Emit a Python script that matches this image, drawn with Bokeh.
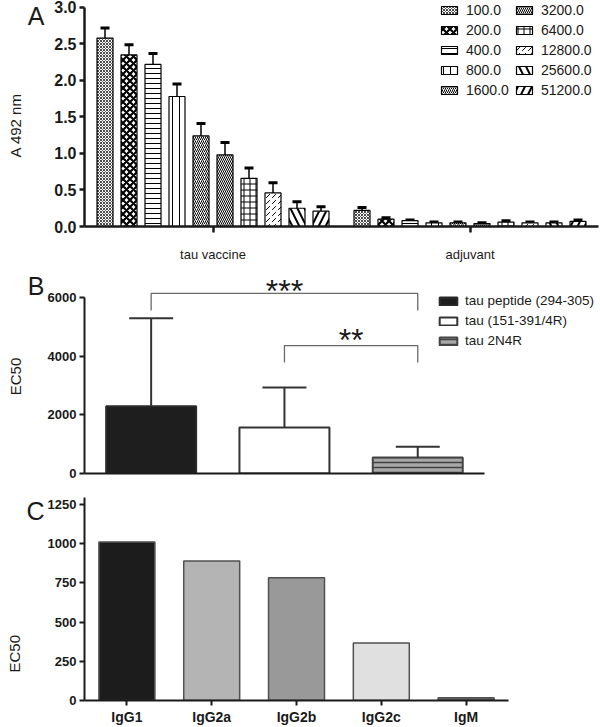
from bokeh.plotting import figure
from bokeh.layouts import column
from bokeh.models import (ColumnDataSource, Range1d, FixedTicker, Whisker, TeeHead, LinearAxis,
                          Legend, LegendItem, Label, PrintfTickFormatter)
from bokeh.embed import file_html
from bokeh.resources import INLINE

# ---------------- data ----------------
dilutions = ["100.0", "200.0", "400.0", "800.0", "1600.0",
             "3200.0", "6400.0", "12800.0", "25600.0", "51200.0"]
groups = ["tau vaccine", "adjuvant"]
vaccine_mean = [2.58, 2.35, 2.22, 1.78, 1.24, 0.98, 0.66, 0.46, 0.25, 0.21]
vaccine_err = [0.14, 0.14, 0.15, 0.17, 0.17, 0.17, 0.14, 0.14, 0.09, 0.06]
adjuvant_mean = [0.22, 0.10, 0.08, 0.05, 0.05, 0.04, 0.06, 0.05, 0.05, 0.07]
adjuvant_err = [0.04, 0.02, 0.01, 0.01, 0.01, 0.01, 0.02, 0.01, 0.01, 0.02]
a_yticks = [0.0, 0.5, 1.0, 1.5, 2.0, 2.5, 3.0]

antigens = ["tau peptide (294-305)", "tau (151-391/4R)", "tau 2N4R"]
ec50_mean = [2290, 1570, 545]
ec50_err = [3000, 1360, 365]
b_yticks = [0, 2000, 4000, 6000]
sig_pairs = [(0, 2), (1, 2)]
sig_labels = ["***", "**"]
sig_heights = [6140, 4360]

isotypes = ["IgG1", "IgG2a", "IgG2b", "IgG2c", "IgM"]
isotype_ec50 = [1011, 889, 783, 367, 18]
c_yticks = [0, 250, 500, 750, 1000, 1250]

# ---------------- styles ----------------
FONT = "Liberation Sans"
INK = "#1a1a1a"
W = 600
hatches = [
    dict(hatch_pattern="diagonal_cross", hatch_scale=3, hatch_weight=0.7),
    dict(hatch_pattern="diagonal_cross", hatch_scale=7, hatch_weight=2.2),
    dict(hatch_pattern="horizontal_line", hatch_scale=5, hatch_weight=1),
    dict(hatch_pattern="vertical_line", hatch_scale=7, hatch_weight=1),
    dict(hatch_pattern="right_diagonal_line", hatch_scale=4, hatch_weight=1),
    dict(hatch_pattern="left_diagonal_line", hatch_scale=4, hatch_weight=1),
    dict(hatch_pattern="cross", hatch_scale=6, hatch_weight=1),
    dict(hatch_pattern="right_diagonal_dash", hatch_scale=6, hatch_weight=1),
    dict(hatch_pattern="left_diagonal_line", hatch_scale=14, hatch_weight=2),
    dict(hatch_pattern="right_diagonal_line", hatch_scale=14, hatch_weight=2),
]
star_offsets = [2, 6]


def style_common(p, lw):
    p.outline_line_color = None
    p.xgrid.visible = False
    p.ygrid.visible = False
    for ax in (p.xaxis[0], p.yaxis[0]):
        ax.axis_line_color = INK
        ax.axis_line_width = lw
        ax.major_tick_line_color = INK
        ax.major_tick_line_width = lw
        ax.major_tick_in = 0
        ax.major_tick_out = 5
        ax.minor_tick_line_color = None
        ax.major_label_text_font = FONT
        ax.major_label_text_color = INK
        ax.major_label_text_font_style = "bold"
    p.yaxis.major_label_standoff = 3


def bare_axis(ticks, overrides, standoff, size, orientation="horizontal"):
    ax = LinearAxis(ticker=FixedTicker(ticks=ticks), major_label_overrides=overrides)
    ax.axis_line_color = None
    ax.major_tick_line_color = None
    ax.minor_tick_line_color = None
    ax.major_tick_in = 0
    ax.major_tick_out = 0
    ax.major_label_standoff = standoff
    ax.major_label_text_font = FONT
    ax.major_label_text_font_size = size
    ax.major_label_text_color = INK
    ax.major_label_orientation = orientation
    return ax


def side_texts(p, letter, letter_y, ylabel, label_y, s1, s2):
    # outer left axes that carry only the panel letter and the y-axis title
    p.add_layout(bare_axis([letter_y], {letter_y: letter}, s1, "25px"), "left")
    p.add_layout(bare_axis([label_y], {label_y: ylabel}, s2, "15px", "vertical"), "left")


# ---------------- Panel A ----------------
pitch = 24 / 257
barw = 16 / 257
pA = figure(width=W, height=264, x_range=Range1d(-0.5, 1.5), y_range=Range1d(0, 3.095),
            output_backend="svg", toolbar_location=None,
            min_border_left=84, min_border_right=2, min_border_top=0, min_border_bottom=36)
style_common(pA, 2.5)
items1, items2 = [], []
for i, d in enumerate(dilutions):
    xs = [g + (i - 4.5) * pitch for g in range(len(groups))]
    src = ColumnDataSource(dict(x=xs, top=[vaccine_mean[i], adjuvant_mean[i]]))
    r = pA.vbar(x="x", top="top", bottom=0, width=barw, source=src,
                fill_color="white", line_color="black", line_width=1.2,
                hatch_color="black", **hatches[i])
    (items1 if i < 5 else items2).append(LegendItem(label=d, renderers=[r]))

wx, wlo, wup = [], [], []
for g, (m, e) in enumerate([(vaccine_mean, vaccine_err), (adjuvant_mean, adjuvant_err)]):
    for i in range(len(dilutions)):
        wx.append(g + (i - 4.5) * pitch)
        wlo.append(m[i])
        wup.append(m[i] + e[i])
wsrc = ColumnDataSource(dict(x=wx, lower=wlo, upper=wup))
pA.add_layout(Whisker(base="x", lower="lower", upper="upper", source=wsrc,
                      line_color="black", line_width=1.5, lower_head=None,
                      upper_head=TeeHead(size=9, line_width=3, line_color="black")))

pA.yaxis.ticker = FixedTicker(ticks=a_yticks)
pA.yaxis.formatter = PrintfTickFormatter(format="%.1f")
pA.yaxis.bounds = (0, 3.0)
pA.yaxis.major_label_text_font_size = "16px"
pA.xaxis.ticker = FixedTicker(ticks=list(range(len(groups))))
pA.xaxis.major_label_overrides = {i: g for i, g in enumerate(groups)}
pA.xaxis.major_label_text_font_size = "13px"
pA.xaxis.major_label_text_font_style = "normal"
pA.xaxis.major_label_standoff = 14
pA.xaxis.major_tick_out = 6
side_texts(pA, "A", 2.88, "A 492 nm", 1.385, 7, 0)

for items, vx in ((items1, 355), (items2, 430)):
    pA.add_layout(Legend(items=items, location=(vx, 128), orientation="vertical",
                         background_fill_alpha=0, border_line_color=None, padding=0, margin=0,
                         spacing=4, glyph_width=20, glyph_height=10, label_height=14,
                         label_standoff=7, label_text_font=FONT, label_text_font_size="14px",
                         label_text_color=INK))

# ---------------- Panel B ----------------
pB = figure(width=W, height=223, x_range=Range1d(-0.5, 3.356), y_range=Range1d(0, 7057),
            output_backend="svg", toolbar_location=None,
            min_border_left=84, min_border_right=2, min_border_top=2, min_border_bottom=14)
style_common(pB, 2)
b_fill = ["#1e1e1e", "white", "#a8a8a8"]
b_line = ["#2a2a2a", "#333333", "#444444"]
b_hatch = [None, None, "horizontal_line"]
b_items = []
for i, a in enumerate(antigens):
    src = ColumnDataSource(dict(x=[i], top=[ec50_mean[i]]))
    kw = {}
    if b_hatch[i]:
        kw = dict(hatch_pattern=b_hatch[i], hatch_scale=5, hatch_weight=1.5, hatch_color="#404040")
    r = pB.vbar(x="x", top="top", bottom=0, width=0.675, source=src,
                fill_color=b_fill[i], line_color=b_line[i], line_width=2, **kw)
    b_items.append(LegendItem(label=a, renderers=[r]))
bsrc = ColumnDataSource(dict(x=list(range(len(antigens))), lower=ec50_mean,
                             upper=[m + e for m, e in zip(ec50_mean, ec50_err)]))
pB.add_layout(Whisker(base="x", lower="lower", upper="upper", source=bsrc,
                      line_color="#333333", line_width=2, lower_head=None, level="overlay",
                      upper_head=TeeHead(size=44, line_width=2, line_color="#333333")))
drop = 580
for (a0, a1), lab, h, off in zip(sig_pairs, sig_labels, sig_heights, star_offsets):
    pB.line(x=[a0, a0, a1, a1], y=[h - drop, h, h, h - drop], line_color="#6a6a6a", line_width=1.3)
    pB.add_layout(Label(x=(a0 + a1) / 2, y=h, y_offset=off, text=lab, text_font=FONT,
                        text_font_size="32px", text_color=INK,
                        text_align="center", text_baseline="middle"))
pB.yaxis.ticker = FixedTicker(ticks=b_yticks)
pB.yaxis.bounds = (0, 6000)
pB.yaxis.major_label_text_font_size = "13px"
pB.xaxis.bounds = (-0.5, 2.5)
pB.xaxis.ticker = FixedTicker(ticks=[])
pB.xaxis.major_label_text_font_size = "0px"
side_texts(pB, "B", 6409, "EC50", 3307, 0, 0)
pB.add_layout(Legend(items=b_items, location=(353, 125), orientation="vertical",
                     background_fill_alpha=0, border_line_color=None, padding=0, margin=0,
                     spacing=5, glyph_width=22, glyph_height=10, label_height=14,
                     label_standoff=6, label_text_font=FONT, label_text_font_size="13.5px",
                     label_text_color=INK))

# ---------------- Panel C ----------------
pC = figure(width=W, height=240, x_range=Range1d(-0.5, 5.561), y_range=Range1d(0, 1294),
            output_backend="svg", toolbar_location=None,
            min_border_left=84, min_border_right=2, min_border_top=10, min_border_bottom=25)
style_common(pC, 2)
c_fill = ["#1c1c1c", "#b4b4b4", "#999999", "#e0e0e0", "#6a6a6a"]
csrc = ColumnDataSource(dict(x=list(range(len(isotypes))), top=isotype_ec50, color=c_fill))
pC.vbar(x="x", top="top", bottom=0, width=0.66, source=csrc, fill_color="color",
        line_color="#505050", line_width=1.5)
pC.yaxis.ticker = FixedTicker(ticks=c_yticks)
pC.yaxis.major_label_text_font_size = "13px"
pC.xaxis.ticker = FixedTicker(ticks=list(range(len(isotypes))))
pC.xaxis.major_label_overrides = {i: n for i, n in enumerate(isotypes)}
pC.xaxis.bounds = (-0.5, len(isotypes) - 0.5)
pC.xaxis.major_label_text_font_size = "14px"
pC.xaxis.major_label_standoff = 3
side_texts(pC, "C", 1209, "EC50", 298, 0, 0)

layout = column(pA, pB, pC, spacing=0)
open("out.html", "w").write(file_html(layout, INLINE))
